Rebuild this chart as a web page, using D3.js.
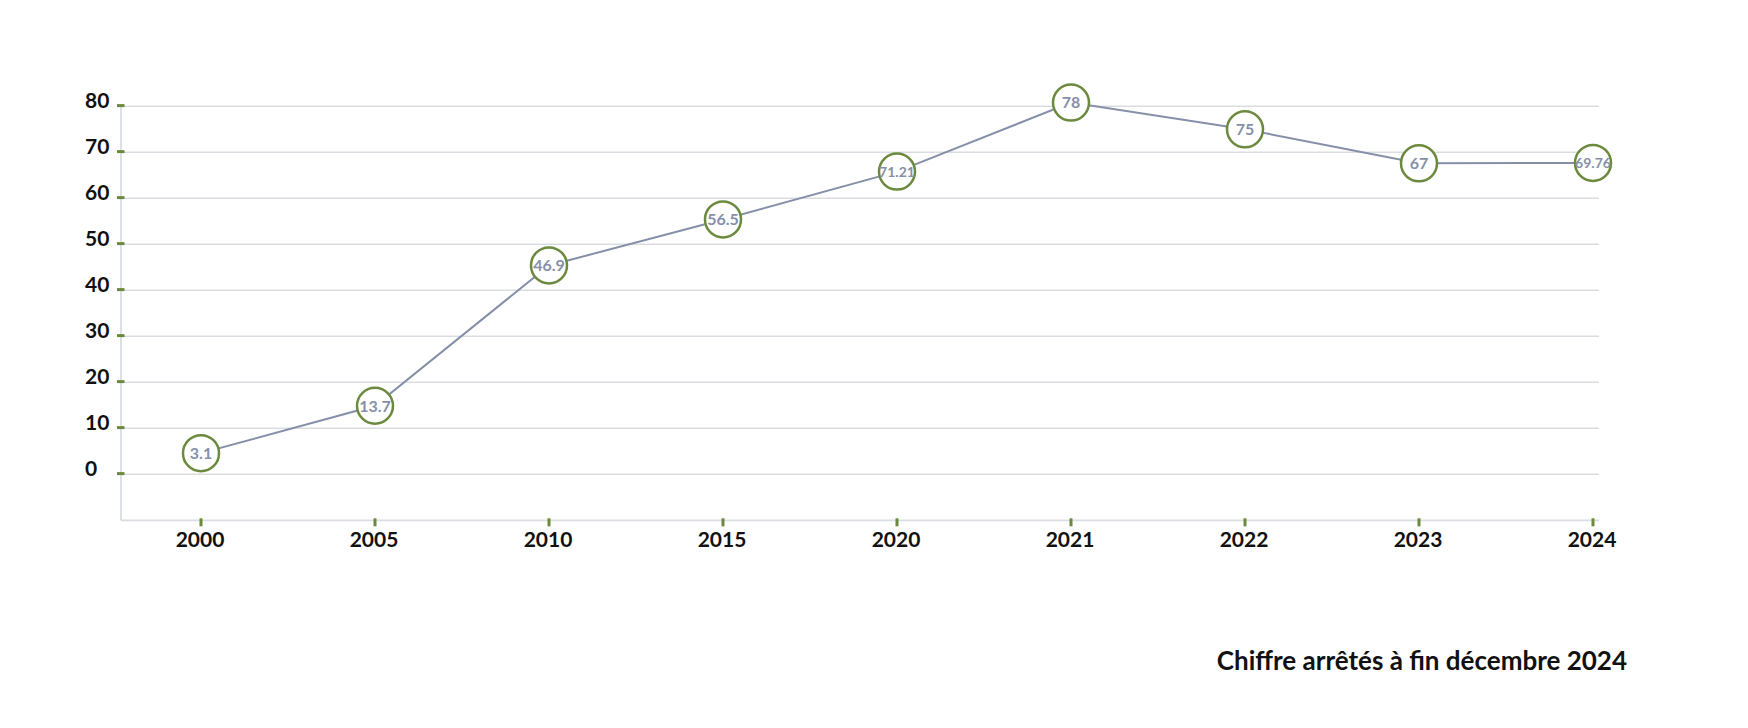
<!DOCTYPE html>
<html>
<head>
<meta charset="utf-8">
<script src="https://cdn.jsdelivr.net/npm/d3@7"></script>
<style>
  body { margin: 0; background: #fff; }
  svg text { font-family: Lato, "Noto Sans", sans-serif; }
</style>
</head>
<body>
<svg id="chart" width="1748" height="728"></svg>
<script>
// years on the x axis
const years = ["2000", "2005", "2010", "2015", "2020", "2021", "2022", "2023", "2024"];
// point heights
const values = [4.6, 14.9, 45.4, 55.4, 65.8, 80.8, 75.0, 67.6, 67.7];
// texts written inside the circles
const labels = ["3.1", "13.7", "46.9", "56.5", "71.21", "78", "75", "67", "69.76"];
// y tick labels
const yTicks = [0, 10, 20, 30, 40, 50, 60, 70, 80];
const note = "Chiffre arrêtés à fin décembre 2024";

const svg = d3.select("#chart");

const x = d3.scalePoint().domain(years).range([201, 1593]);
const y = d3.scaleLinear().domain([-10, 80]).range([520.3, 106.3]);

const left = 121, right = 1599;
const gridColor = "#d9dde2";
const green = "#6b8a3d";
const lineColor = "#8590a8";

// gridlines
svg.append("g")
  .selectAll("line")
  .data(yTicks)
  .enter().append("line")
  .attr("x1", left).attr("x2", right)
  .attr("y1", d => y(d)).attr("y2", d => y(d))
  .attr("stroke", gridColor)
  .attr("stroke-width", 1.6);

// axis frame (left + bottom)
svg.append("line")
  .attr("x1", left).attr("x2", left)
  .attr("y1", y(80)).attr("y2", y(-10))
  .attr("stroke", gridColor).attr("stroke-width", 1.8);
svg.append("line")
  .attr("x1", left).attr("x2", right)
  .attr("y1", y(-10)).attr("y2", y(-10))
  .attr("stroke", gridColor).attr("stroke-width", 1.8);

// y ticks + labels
const yg = svg.append("g");
yg.selectAll("rect")
  .data(yTicks)
  .enter().append("rect")
  .attr("x", left - 4)
  .attr("y", d => y(d) - 2.2)
  .attr("width", 7.5).attr("height", 3)
  .attr("fill", green);
yg.selectAll("text")
  .data(yTicks)
  .enter().append("text")
  .attr("x", 85)
  .attr("y", d => y(d) + 1.8)
  .attr("font-size", 21)
  .attr("font-weight", 700)
  .attr("fill", "#111")
  .text(d => d);

// x ticks + labels
const xg = svg.append("g");
xg.selectAll("rect")
  .data(years)
  .enter().append("rect")
  .attr("x", d => x(d) - 1.5)
  .attr("y", y(-10) - 2)
  .attr("width", 3).attr("height", 8)
  .attr("fill", green);
xg.selectAll("text")
  .data(years)
  .enter().append("text")
  .attr("x", d => x(d) - 1)
  .attr("y", 546.5)
  .attr("text-anchor", "middle")
  .attr("font-size", 21)
  .attr("font-weight", 700)
  .attr("fill", "#111")
  .text(d => d);

// the line
const line = d3.line()
  .x((d, i) => x(years[i]))
  .y(d => y(d));

svg.append("path")
  .datum(values)
  .attr("d", line)
  .attr("fill", "none")
  .attr("stroke", lineColor)
  .attr("stroke-width", 2);

// circles with their labels
const pts = svg.append("g")
  .selectAll("g")
  .data(values)
  .enter().append("g")
  .attr("transform", (d, i) => `translate(${x(years[i])},${y(d)})`);

pts.append("circle")
  .attr("r", 18)
  .attr("fill", "#fff")
  .attr("stroke", green)
  .attr("stroke-width", 2.5);

pts.append("text")
  .attr("text-anchor", "middle")
  .attr("dy", "0.36em")
  .attr("font-size", (d, i) => labels[i].length > 4 ? 14 : 16)
  .attr("font-weight", 700)
  .attr("fill", lineColor)
  .text((d, i) => labels[i]);

// footnote
svg.append("text")
  .attr("x", 1627)
  .attr("y", 670)
  .attr("text-anchor", "end")
  .attr("font-size", 26)
  .attr("font-weight", 700)
  .attr("fill", "#111")
  .text(note);
</script>
</body>
</html>
